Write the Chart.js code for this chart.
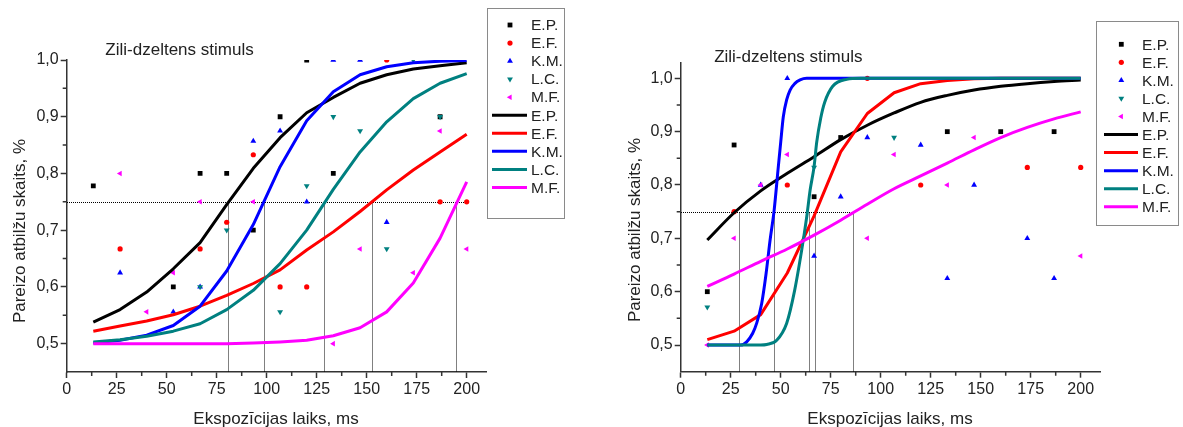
<!DOCTYPE html>
<html><head><meta charset="utf-8">
<script src="https://cdn.jsdelivr.net/npm/chart.js@4/dist/chart.umd.min.js"></script>
<style>
html,body{margin:0;padding:0;background:#fff;width:1183px;height:427px;overflow:hidden}
canvas{position:absolute;top:0}
#c1{left:0}
#c2{left:590px}
</style></head><body>
<canvas id="c1" width="590" height="427"></canvas>
<canvas id="c2" width="593" height="427"></canvas>
<script>
// ---------- DATA ----------
const seriesNames = ['E.P.', 'E.F.', 'K.M.', 'L.C.', 'M.F.'];
const chartTitle = 'Zili-dzeltens stimuls';
const xTitle = 'Ekspozīcijas laiks, ms';
const yTitle = 'Pareizo atbilžu skaits, %';
const xTickVals = [0, 25, 50, 75, 100, 125, 150, 175, 200];
const xTickLabels = ['0', '25', '50', '75', '100', '125', '150', '175', '200'];
const xMinor = [12.5, 37.5, 62.5, 87.5, 112.5, 137.5, 162.5, 187.5];
const yTickVals = [0.5, 0.6, 0.7, 0.8, 0.9, 1.0];
const yTickLabels = ['0,5', '0,6', '0,7', '0,8', '0,9', '1,0'];
const yMinor = [0.55, 0.65, 0.75, 0.85, 0.95];

// exposure times (ms)
const xs = [13.3, 26.7, 40, 53.3, 66.7, 80, 93.3, 106.7, 120, 133.3, 146.7, 160, 173.3, 186.7, 200];

// ---- left chart: measured points ----
const lEP = [0.778, null, null, 0.6, 0.8, 0.8, 0.7, 0.9, 1.0, 0.8, null, null, null, 0.9, null];
const lEF = [null, 0.667, null, null, 0.667, 0.714, 0.833, 0.6, 0.6, null, null, 1.0, null, 0.75, 0.75];
const lKM = [null, 0.625, null, 0.556, 0.6, null, 0.857, 0.875, 0.75, 1.0, 1.0, 0.714, null, null, null];
const lLC = [null, null, null, null, 0.6, 0.7, null, 0.556, 0.778, 0.9, 0.875, 0.667, 1.0, 0.9, null];
const lMF = [null, 0.8, 0.556, 0.625, 0.75, null, 0.75, null, null, 0.5, 0.667, null, 0.625, 0.875, 0.667];
// ---- left chart: fitted curves ----
const lEPfit = [0.538, 0.56, 0.591, 0.632, 0.678, 0.745, 0.809, 0.863, 0.907, 0.934, 0.959, 0.974, 0.984, 0.99, 0.995];
const lEFfit = [0.522, 0.531, 0.54, 0.551, 0.566, 0.585, 0.606, 0.63, 0.665, 0.697, 0.733, 0.771, 0.806, 0.838, 0.869];
const lKMfit = [0.501, 0.506, 0.515, 0.532, 0.566, 0.628, 0.71, 0.812, 0.893, 0.944, 0.974, 0.988, 0.995, 0.998, 0.999];
const lLCfit = [0.503, 0.507, 0.513, 0.522, 0.535, 0.56, 0.594, 0.641, 0.70, 0.772, 0.838, 0.891, 0.932, 0.959, 0.976];
const lMFfit = [0.5, 0.5, 0.5, 0.5, 0.5, 0.5, 0.501, 0.503, 0.506, 0.514, 0.528, 0.556, 0.607, 0.686, 0.785];
const lCross = [80.8, 98.8, 128.5, 152.8, 194.7];
const lRefTo = 200;

// ---- right chart: measured points ----
const rEP = [0.6, 0.875, null, null, 0.778, 0.889, null, null, null, 0.9, null, 0.9, null, 0.9, null];
const rEF = [null, 0.75, null, 0.8, null, null, 1.0, null, 0.8, null, null, null, 0.833, null, 0.833];
const rKM = [null, null, 0.8, 1.0, 0.667, 0.778, 0.889, null, 0.875, 0.625, 0.8, null, 0.7, 0.625, null];
const rLC = [0.571, null, null, null, 0.833, null, null, 0.889, null, null, null, null, null, null, null];
const rMF = [0.5, 0.7, 0.8, 0.857, null, null, 0.7, 0.857, null, 0.8, 0.889, null, null, null, 0.667];
// ---- right chart: fitted curves ----
const rEPfit = [0.697, 0.748, 0.789, 0.822, 0.853, 0.885, 0.912, 0.935, 0.955, 0.968, 0.978, 0.985, 0.99, 0.994, 0.997];
const rEFfit = [0.51, 0.526, 0.557, 0.635, 0.742, 0.862, 0.934, 0.973, 0.99, 0.996, 0.999, 1, 1, 1, 1];
const rKMfitX = [13.3, 26.7, 30, 33, 36, 38, 40.5, 42.7, 44.7, 46.7, 48.8, 50, 51.3, 53, 54.7, 57, 59.7, 63, 70, 200];
const rKMfit = [0.5, 0.5, 0.5, 0.506, 0.522, 0.541, 0.578, 0.634, 0.697, 0.752, 0.834, 0.88, 0.928, 0.96, 0.978, 0.99, 0.997, 1.0, 1.0, 1.0];
const rLCfitX = [13.3, 40, 43, 48, 53, 57, 60.5, 63, 64.7, 66.7, 68, 70, 72, 76, 83, 90, 200];
const rLCfit = [0.5, 0.5, 0.501, 0.509, 0.541, 0.603, 0.678, 0.74, 0.79, 0.835, 0.88, 0.925, 0.955, 0.985, 0.998, 1.0, 1.0];
const rMFfit = [0.61, 0.633, 0.657, 0.68, 0.706, 0.734, 0.764, 0.793, 0.817, 0.841, 0.866, 0.889, 0.908, 0.924, 0.937];
const rCross = [29, 46.7, 64, 67.3, 86];
const rRefTo = 86;
const refLevel = 0.75;

// ---------- STYLE ----------
const FONT = '"Liberation Sans", Arial, Helvetica, sans-serif';
const colors = ['#000000', '#ff0000', '#0000ff', '#008080', '#ff00ff'];
const pStyles = ['rect', 'circle', 'triangle', 'triangle', 'triangle'];
const pRot = [0, 0, 0, 180, -90];
const pRad = [3.4, 2.6, 3.4, 3.4, 3.2];
const AXIS = '#333333';
const TEXT = '#222222';

function pts(xa, ya) {
  return xa.map((x, i) => ({x: x, y: ya[i]})).filter(p => p.y !== null && p.y !== undefined);
}

function drawMarker(ctx, i, x, y) {
  const r = pRad[i];
  ctx.fillStyle = colors[i];
  ctx.beginPath();
  if (pStyles[i] === 'rect') {
    const s = r * Math.SQRT2;
    ctx.rect(x - s / 2, y - s / 2, s, s);
  } else if (pStyles[i] === 'circle') {
    ctx.arc(x, y, r, 0, Math.PI * 2);
  } else {
    let rad = pRot[i] * Math.PI / 180;
    ctx.moveTo(x + Math.sin(rad) * r, y - Math.cos(rad) * r);
    rad += Math.PI * 2 / 3;
    ctx.lineTo(x + Math.sin(rad) * r, y - Math.cos(rad) * r);
    rad += Math.PI * 2 / 3;
    ctx.lineTo(x + Math.sin(rad) * r, y - Math.cos(rad) * r);
    ctx.closePath();
  }
  ctx.fill();
}

function overlay(L) {
  return {
    id: 'overlay',
    beforeDatasetsDraw(chart) {
      const {ctx, scales: {x, y}} = chart;
      ctx.save();
      ctx.strokeStyle = '#000';
      ctx.lineWidth = 1;
      ctx.setLineDash([1, 1]);
      const yr = Math.round(y.getPixelForValue(refLevel)) + 0.5;
      ctx.beginPath();
      ctx.moveTo(Math.round(x.getPixelForValue(0)), yr);
      ctx.lineTo(x.getPixelForValue(L.refTo), yr);
      L.cross.forEach(v => {
        const px = Math.round(x.getPixelForValue(v)) + 0.5;
        ctx.moveTo(px, yr);
        ctx.lineTo(px, y.bottom);
      });
      ctx.stroke();
      ctx.restore();
    },
    afterDraw(chart) {
      const {ctx, scales: {x, y}} = chart;
      ctx.save();
      // minor ticks
      ctx.strokeStyle = AXIS;
      ctx.lineWidth = 1.5;
      ctx.beginPath();
      xMinor.forEach(v => {
        const px = x.getPixelForValue(v);
        ctx.moveTo(px, y.bottom); ctx.lineTo(px, y.bottom + 4);
      });
      yMinor.forEach(v => {
        const py = y.getPixelForValue(v);
        ctx.moveTo(x.left, py); ctx.lineTo(x.left - 4, py);
      });
      ctx.stroke();
      // titles
      ctx.fillStyle = TEXT;
      ctx.textBaseline = 'alphabetic';
      ctx.textAlign = 'center';
      ctx.font = '17px ' + FONT;
      ctx.fillText(chartTitle, L.titleX, L.titleY);
      ctx.fillText(xTitle, L.xTitleX, L.xTitleY);
      ctx.save();
      ctx.translate(L.yTitleX, L.yTitleY);
      ctx.rotate(-Math.PI / 2);
      ctx.fillText(yTitle, 0, 0);
      ctx.restore();
      // legend
      const B = L.legend;
      ctx.strokeStyle = '#8a8a8a';
      ctx.lineWidth = 1;
      ctx.strokeRect(B.x0 + 0.5, B.y0 + 0.5, B.x1 - B.x0, B.y1 - B.y0);
      ctx.font = '15.5px ' + FONT;
      ctx.textAlign = 'left';
      ctx.textBaseline = 'middle';
      for (let k = 0; k < 10; k++) {
        const i = k % 5;
        const cy = B.firstY + k * B.step;
        if (k < 5) {
          drawMarker(ctx, i, B.markX, cy);
        } else {
          ctx.strokeStyle = colors[i];
          ctx.lineWidth = 3;
          ctx.beginPath();
          ctx.moveTo(B.lineX0, cy); ctx.lineTo(B.lineX1, cy);
          ctx.stroke();
        }
        ctx.fillStyle = TEXT;
        ctx.fillText(seriesNames[i], B.textX, cy + 1);
      }
      ctx.restore();
    }
  };
}

function makeChart(id, L) {
  const datasets = [];
  L.points.forEach((arr, i) => {
    datasets.push({
      data: pts(xs, arr), showLine: false,
      pointStyle: pStyles[i], rotation: pRot[i], pointRadius: pRad[i],
      backgroundColor: colors[i], borderColor: colors[i], borderWidth: 0,
      pointHoverRadius: pRad[i], order: 20 - i, clip: L.clipPoints
    });
  });
  L.fits.forEach((f, i) => {
    datasets.push({
      data: pts(f.x, f.y), showLine: true, pointRadius: 0, pointHoverRadius: 0,
      borderColor: colors[i], backgroundColor: colors[i], borderWidth: 3,
      tension: f.smooth ? 0.4 : 0, cubicInterpolationMode: f.smooth ? 'monotone' : 'default',
      borderJoinStyle: 'round', borderCapStyle: 'butt', fill: false, order: 10 - i
    });
  });
  return new Chart(document.getElementById(id), {
    type: 'scatter',
    data: {datasets},
    options: {
      responsive: false, animation: false, devicePixelRatio: 1,
      layout: {padding: {left: 0, right: L.padRight, top: L.padTop, bottom: 0}},
      plugins: {legend: {display: false}, tooltip: {enabled: false}, title: {display: false}},
      scales: {
        x: {
          type: 'linear', min: 0, max: 210,
          afterBuildTicks: s => { s.ticks = xTickVals.map(v => ({value: v})); },
          afterFit: s => { s.height = L.xAxisH; },
          ticks: {callback: (v, i) => xTickLabels[i], font: {family: FONT, size: 16}, color: TEXT,
                  padding: 2, maxRotation: 0, autoSkip: false},
          grid: {drawOnChartArea: false, drawTicks: true, tickLength: 6, tickColor: AXIS, tickWidth: 1.5},
          border: {color: AXIS, width: 1.5}
        },
        y: {
          type: 'linear', min: 0.45, max: L.yMax,
          afterBuildTicks: s => { s.ticks = yTickVals.map(v => ({value: v})); },
          afterFit: s => { s.width = L.yAxisW; },
          ticks: {callback: (v, i) => yTickLabels[i], font: {family: FONT, size: 16}, color: TEXT,
                  padding: 2, autoSkip: false},
          grid: {drawOnChartArea: false, drawTicks: true, tickLength: 6, tickColor: AXIS, tickWidth: 1.5},
          border: {color: AXIS, width: 1.5}
        }
      }
    },
    plugins: [overlay(L)]
  });
}

Chart.defaults.font.family = FONT;

makeChart('c1', {
  points: [lEP, lEF, lKM, lLC, lMF],
  fits: [
    {x: xs, y: lEPfit}, {x: xs, y: lEFfit}, {x: xs, y: lKMfit}, {x: xs, y: lLCfit}, {x: xs, y: lMFfit}
  ],
  clipPoints: 0, yMax: 1.0,
  padTop: 60, padRight: 103.3, yAxisW: 66.7, xAxisH: 55,
  refTo: lRefTo, cross: lCross,
  titleX: 179.5, titleY: 55, xTitleX: 276, xTitleY: 424, yTitleX: 25, yTitleY: 231,
  legend: {x0: 487, y0: 8, x1: 564, y1: 218, firstY: 25, step: 18.05,
           markX: 510, lineX0: 492, lineX1: 527, textX: 531}
});

makeChart('c2', {
  points: [rEP, rEF, rKM, rLC, rMF],
  fits: [
    {x: xs, y: rEPfit, smooth: true}, {x: xs, y: rEFfit}, {x: rKMfitX, y: rKMfit, smooth: true},
    {x: rLCfitX, y: rLCfit, smooth: true}, {x: xs, y: rMFfit, smooth: true}
  ],
  clipPoints: false, yMax: 1.03,
  padTop: 62.3, padRight: 82.3, yAxisW: 90.7, xAxisH: 55.3,
  refTo: rRefTo, cross: rCross,
  titleX: 198.3, titleY: 61.7, xTitleX: 300, xTitleY: 424, yTitleX: 49.5, yTitleY: 230,
  legend: {x0: 506, y0: 21, x1: 588, y1: 225, firstY: 44.3, step: 18.05,
           markX: 531.3, lineX0: 514, lineX1: 548, textX: 552}
});
</script>
</body></html>
